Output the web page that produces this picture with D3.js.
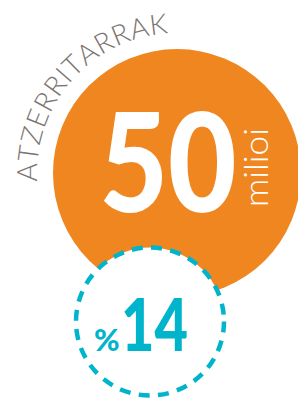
<!DOCTYPE html>
<html>
<head>
<meta charset="utf-8">
<script src="https://cdn.jsdelivr.net/npm/d3@7"></script>
<style>
  body { margin: 0; background: #fff; }
  svg { display: block; }
</style>
</head>
<body>
<div class="chart"></div>
<script>
// values
var labels = ["ATZERRITARRAK"];
var totals = [50];
var units = ["milioi"];
var shares = [14];

var width = 298, height = 398;
var orange = "#f08620", teal = "#00b4cb", grey = "#7b7471";

var svg = d3.select(".chart")
  .append("svg")
    .attr("width", width)
    .attr("height", height);

// big circle
var big = {cx: 177, cy: 173, r: 124};
svg.selectAll("circle.big")
  .data(totals)
  .enter()
  .append("circle")
    .attr("class", "big")
    .attr("cx", big.cx)
    .attr("cy", big.cy)
    .attr("r", big.r)
    .attr("fill", orange);

// curved label round the big circle, one letter at a time
var labelR = 140;
var ang = d3.scaleLinear().domain([0, 1]).range([176.5, 266.5]); // degrees, screen coords

var letters = labels[0].split("");
var measure = svg.append("text")
  .style("font-family", "Lato, sans-serif")
  .style("font-weight", 300)
  .style("font-size", "28px");
var widths = letters.map(function(c) {
  measure.text(c);
  return measure.node().getComputedTextLength();
});
measure.remove();

var total = d3.sum(widths);
var arcLen = (ang(1) - ang(0)) * Math.PI / 180 * labelR;
var gap = (arcLen - total) / (letters.length - 1);
var acc = 0;
var pos = widths.map(function(w) {
  var mid = acc + w / 2;
  acc += w + gap;
  return mid / arcLen;
});

svg.selectAll("text.letter")
  .data(letters)
  .enter()
  .append("text")
    .attr("class", "letter")
    .attr("text-anchor", "middle")
    .style("font-family", "Lato, sans-serif")
    .style("font-weight", 300)
    .style("font-size", "28px")
    .attr("fill", grey)
    .attr("transform", function(d, i) {
      var a = ang(pos[i]);
      var t = a * Math.PI / 180;
      var x = big.cx + labelR * Math.cos(t);
      var y = big.cy + labelR * Math.sin(t);
      return "translate(" + x + "," + y + ") rotate(" + (a + 90) + ")";
    })
    .text(function(d) { return d; });

// 50
svg.append("text")
  .attr("x", 168)
  .attr("y", 212)
  .attr("text-anchor", "middle")
  .style("font-family", "Lato, sans-serif")
  .style("font-weight", 900)
  .style("font-size", "137px")
  .attr("textLength", 137)
  .attr("lengthAdjust", "spacingAndGlyphs")
  .attr("fill", "#fff")
  .text(totals[0]);

// milioi
svg.append("text")
  .attr("transform", "translate(268,167.5) rotate(-90)")
  .attr("text-anchor", "middle")
  .style("font-family", "Lato, sans-serif")
  .style("font-weight", 300)
  .style("font-size", "33px")
  .attr("textLength", 79)
  .attr("lengthAdjust", "spacingAndGlyphs")
  .attr("fill", "#fff")
  .text(units[0]);

// dashed circle
var small = {cx: 150, cy: 321.5, r: 74};
svg.selectAll("circle.small")
  .data(shares)
  .enter()
  .append("circle")
    .attr("class", "small")
    .attr("cx", small.cx)
    .attr("cy", small.cy)
    .attr("r", small.r)
    .attr("fill", "#fff")
    .attr("stroke", teal)
    .attr("stroke-width", 4.5)
    .attr("stroke-dasharray", "11 8.4");

var g = svg.append("text")
  .attr("y", 351)
  .attr("fill", teal)
  .style("font-family", "Lato, sans-serif")
  .style("font-weight", 900);

g.append("tspan")
  .attr("x", 94)
  .style("font-size", "31px")
  .text("%");

g.append("tspan")
  .attr("x", 121)
  .style("font-size", "72px")
  .attr("textLength", 67)
  .attr("lengthAdjust", "spacingAndGlyphs")
  .text(shares[0]);
</script>
</body>
</html>
